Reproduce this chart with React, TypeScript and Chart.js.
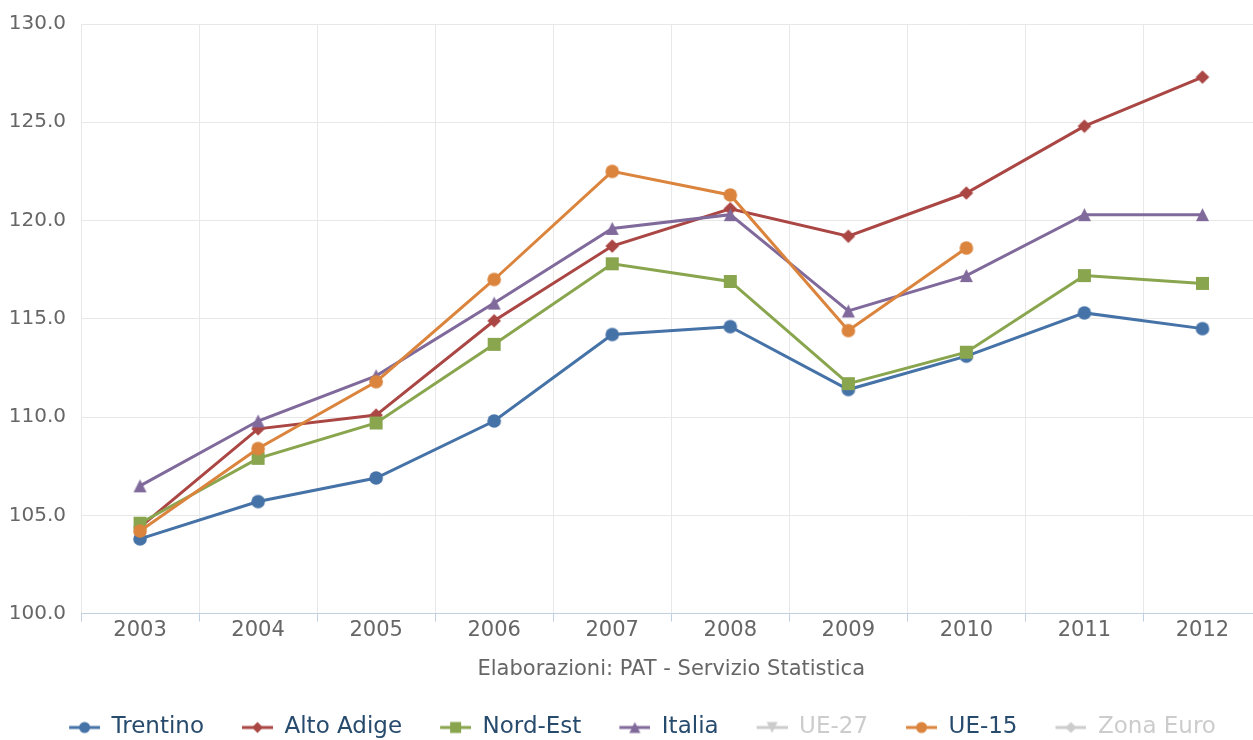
import React, { useEffect, useRef } from "react";
import { Chart, registerables } from "chart.js";

Chart.register(...registerables);

const years = ["2003", "2004", "2005", "2006", "2007", "2008", "2009", "2010", "2011", "2012"];
const trentino = [103.8, 105.7, 106.9, 109.8, 114.2, 114.6, 111.4, 113.1, 115.3, 114.5];
const altoAdige = [104.4, 109.4, 110.1, 114.9, 118.7, 120.6, 119.2, 121.4, 124.8, 127.3];
const nordEst = [104.6, 107.9, 109.7, 113.7, 117.8, 116.9, 111.7, 113.3, 117.2, 116.8];
const italia = [106.5, 109.8, 112.1, 115.8, 119.6, 120.3, 115.4, 117.2, 120.3, 120.3];
const ue27: (number | null)[] = [];
const ue15 = [104.2, 108.4, 111.8, 117.0, 122.5, 121.3, 114.4, 118.6, null, null];
const zonaEuro: (number | null)[] = [];

const yTicks = { min: 100, max: 130, step: 5 };
const caption = "Elaborazioni: PAT - Servizio Statistica";

const FONT = "'DejaVu Sans', Verdana, sans-serif";

type Sym = "circle" | "diamond" | "square" | "triangle" | "triangle-down";

function drawSymbol(ctx: CanvasRenderingContext2D, sym: Sym, x: number, y: number, r: number) {
  ctx.beginPath();
  if (sym === "circle") {
    ctx.arc(x, y, r, 0, Math.PI * 2);
  } else if (sym === "square") {
    ctx.rect(x - r, y - r, 2 * r, 2 * r);
  } else if (sym === "diamond") {
    ctx.moveTo(x, y - r);
    ctx.lineTo(x + r, y);
    ctx.lineTo(x, y + r);
    ctx.lineTo(x - r, y);
    ctx.closePath();
  } else if (sym === "triangle") {
    ctx.moveTo(x, y - r);
    ctx.lineTo(x + r, y + r);
    ctx.lineTo(x - r, y + r);
    ctx.closePath();
  } else {
    ctx.moveTo(x - r, y - r);
    ctx.lineTo(x + r, y - r);
    ctx.lineTo(x, y + r);
    ctx.closePath();
  }
  ctx.fill();
}

function makeSymbolImage(sym: Sym, color: string, r: number): HTMLCanvasElement {
  const c = document.createElement("canvas");
  const s = Math.ceil(r * 2 + 2);
  c.width = s;
  c.height = s;
  const ctx = c.getContext("2d")!;
  ctx.fillStyle = color;
  drawSymbol(ctx, sym, s / 2, s / 2, r);
  return c;
}

function makeLegendIcon(sym: Sym, color: string, gap: number): HTMLCanvasElement {
  const c = document.createElement("canvas");
  const w = gap + 31;
  c.width = w;
  c.height = 16;
  const ctx = c.getContext("2d")!;
  ctx.strokeStyle = color;
  ctx.lineWidth = 3;
  ctx.beginPath();
  ctx.moveTo(gap, 8);
  ctx.lineTo(w, 8);
  ctx.stroke();
  ctx.fillStyle = color;
  drawSymbol(ctx, sym, gap + 15.5, 8, 5.5);
  return c;
}

export default function App() {
  const ref = useRef<HTMLCanvasElement | null>(null);

  useEffect(() => {
    document.body.style.margin = "0";
    const canvas = ref.current;
    if (!canvas) return;

    const series = [
      { label: "Trentino", data: trentino, color: "#4572A7", sym: "circle" as Sym, r: 6.8, hidden: false },
      { label: "Alto Adige", data: altoAdige, color: "#AA4643", sym: "diamond" as Sym, r: 6.8, hidden: false },
      { label: "Nord-Est", data: nordEst, color: "#89A54E", sym: "square" as Sym, r: 6.5, hidden: false },
      { label: "Italia", data: italia, color: "#80699B", sym: "triangle" as Sym, r: 6.5, hidden: false },
      { label: "UE-27", data: ue27, color: "#3D96AE", sym: "triangle-down" as Sym, r: 6.5, hidden: true },
      { label: "UE-15", data: ue15, color: "#DB843D", sym: "circle" as Sym, r: 6.8, hidden: false },
      { label: "Zona Euro", data: zonaEuro, color: "#92A8CD", sym: "diamond" as Sym, r: 6.8, hidden: true },
    ];

    const GAP = 14;
    const legendIcons = series.map((s) =>
      makeLegendIcon(s.sym, s.hidden ? "#cccccc" : s.color, GAP)
    );

    const chart = new Chart(canvas, {
      type: "line",
      data: {
        labels: years,
        datasets: series.map((s, i) => ({
          label: s.label,
          data: s.data,
          borderColor: s.color,
          backgroundColor: s.color,
          borderWidth: 3,
          pointStyle: makeSymbolImage(s.sym, s.color, s.r),
          pointRadius: 6.5,
          pointHoverRadius: 6.5,
          tension: 0,
          spanGaps: false,
          hidden: s.hidden,
          order: -i,
        })),
      },
      options: {
        responsive: false,
        animation: false,
        layout: { padding: { left: 0, right: 0, top: 18, bottom: 0 } },
        plugins: {
          tooltip: { enabled: false },
          legend: {
            position: "bottom",
            align: "center",
            labels: {
              usePointStyle: true,
              pointStyleWidth: GAP + 31,
              boxHeight: 16,
              padding: 24,
              font: { family: FONT, size: 23 },
              color: "#274b6d",
              generateLabels: () =>
                series.map((s, i) => ({
                  text: s.label,
                  fillStyle: s.color,
                  strokeStyle: s.color,
                  lineWidth: 0,
                  hidden: false,
                  datasetIndex: i,
                  pointStyle: legendIcons[i],
                  fontColor: s.hidden ? "#cccccc" : "#274b6d",
                })),
            },
          },
        },
        scales: {
          x: {
            offset: true,
            grid: {
              offset: true,
              color: "#e8e8e8",
              lineWidth: 1,
              drawTicks: true,
              tickLength: 8,
              tickColor: "#C0D0E0",
            },
            border: { color: "#C0D0E0", width: 1 },
            ticks: {
              color: "#666666",
              font: { family: FONT, size: 21 },
              padding: -4,
              maxRotation: 0,
            },
            title: {
              display: true,
              text: caption,
              color: "#666666",
              font: { family: FONT, size: 21 },
              padding: { top: 18, bottom: 10 },
            },
          },
          y: {
            min: yTicks.min,
            max: yTicks.max,
            grid: { color: "#e8e8e8", lineWidth: 1, drawTicks: false },
            border: { display: false },
            ticks: {
              stepSize: yTicks.step,
              color: "#666666",
              font: { family: FONT, size: 20 },
              padding: 15,
              callback: (v: any) => Number(v).toFixed(1),
            },
            afterFit: (scale: any) => {
              scale.width = 81;
            },
          },
        },
      },
    });

    return () => chart.destroy();
  }, []);

  return (
    <div style={{ position: "fixed", left: 0, top: 0, width: 1253, height: 740, overflow: "hidden", background: "#fff" }}>
      <canvas ref={ref} width={1271} height={752} style={{ display: "block", marginTop: -3 }} />
    </div>
  );
}
